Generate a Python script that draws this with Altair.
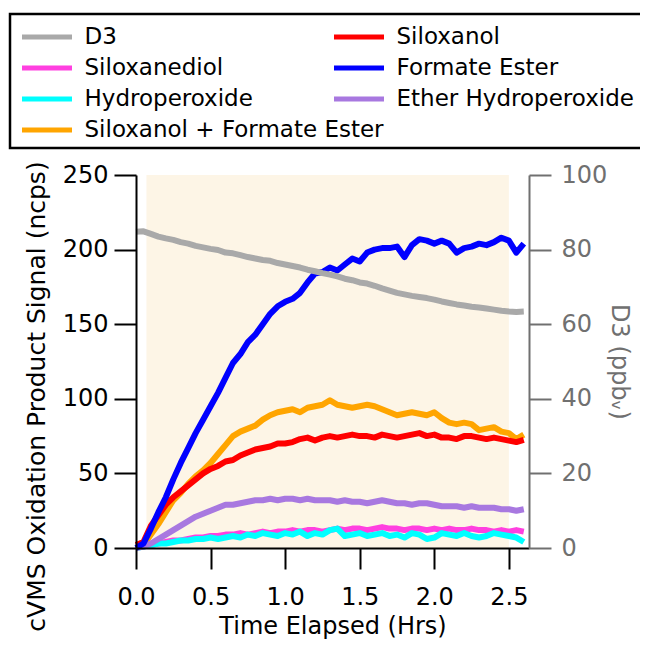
import altair as alt
import pandas as pd

# ---------------- data ----------------
time_hrs = [0.00, 0.05, 0.10, 0.15, 0.20, 0.25, 0.30, 0.35, 0.40, 0.45,
            0.50, 0.55, 0.60, 0.65, 0.70, 0.75, 0.80, 0.85, 0.90, 0.95,
            1.00, 1.05, 1.10, 1.15, 1.20, 1.25, 1.30, 1.35, 1.40, 1.45,
            1.50, 1.55, 1.60, 1.65, 1.70, 1.75, 1.80, 1.85, 1.90, 1.95,
            2.00, 2.05, 2.10, 2.15, 2.20, 2.25, 2.30, 2.35, 2.40, 2.45,
            2.50, 2.55, 2.60]

d3_ppb = [84.8, 84.9, 84.2, 83.5, 83.0, 82.6, 82.0, 81.6, 81.0, 80.6,
          80.2, 79.9, 79.2, 79.0, 78.5, 78.0, 77.6, 77.2, 77.0, 76.4,
          76.0, 75.6, 75.2, 74.6, 74.2, 73.7, 73.3, 72.8, 72.2, 71.8,
          71.2, 70.9, 70.3, 69.6, 69.0, 68.4, 68.0, 67.6, 67.3, 67.0,
          66.6, 66.1, 65.7, 65.3, 65.0, 64.7, 64.5, 64.2, 63.9, 63.6,
          63.4, 63.3, 63.4]

formate_ester = [0, 3, 13, 24, 34, 46, 57, 67, 77, 86,
                 95, 104, 114, 124, 130, 138, 143, 150, 157, 162,
                 165, 167, 171, 178, 184, 185, 188, 186, 190, 194,
                 192, 198, 200, 201, 201, 202, 195, 203, 207, 206,
                 204, 206, 204, 198, 201, 202, 204, 203, 205, 208,
                 206, 198, 204]

siloxanol_formate = [0, 2, 9, 16, 24, 32, 37, 43, 48, 52,
                     57, 63, 69, 75, 78, 80, 82, 86, 89, 91,
                     92, 93, 91, 94, 95, 96, 99, 96, 95, 94,
                     95, 96, 95, 93, 91, 89, 90, 91, 90, 89,
                     91, 87, 84, 83, 84, 83, 79, 80, 81, 78,
                     77, 73, 76]

siloxanol = [2, 4, 15, 22, 29, 34, 38, 42, 46, 50,
             53, 55, 58, 59, 62, 64, 66, 67, 68, 70,
             70, 71, 73, 74, 72, 74, 75, 74, 75, 76,
             75, 75, 74, 76, 75, 74, 75, 76, 77, 75,
             76, 74, 74, 73, 75, 75, 74, 73, 74, 73,
             72, 71, 72.5]

ether_hydroperoxide = [0, 1, 3, 6, 9, 12, 15, 18, 21, 23,
                       25, 27, 29, 29, 30, 31, 32, 32, 33, 32,
                       33, 33, 32, 33, 32, 32, 32, 31, 32, 31,
                       31, 30, 31, 32, 31, 30, 30, 29, 30, 30,
                       29, 28, 28, 28, 27, 28, 27, 27, 27, 26,
                       26, 25, 26]

siloxanediol = [1, 1, 2, 3, 4, 5, 5, 6, 7, 7,
                8, 8, 9, 9, 10, 9, 10, 11, 10, 11,
                11, 12, 11, 12, 12, 11, 12, 13, 12, 13,
                13, 12, 13, 14, 13, 13, 12, 13, 13, 12,
                13, 12, 13, 12, 12, 13, 12, 12, 11, 12,
                11, 12, 11]

hydroperoxide = [0, 1, 2, 3, 3, 4, 5, 5, 6, 6,
                 7, 6, 7, 8, 7, 9, 8, 10, 9, 8,
                 10, 9, 11, 8, 10, 9, 12, 13, 8, 9,
                 10, 8, 9, 10, 8, 9, 7, 10, 9, 6,
                 7, 10, 9, 8, 10, 8, 7, 8, 10, 9,
                 8, 7, 4]

# legend column 1 / column 2 names and colours
col1_names = ["D3", "Siloxanediol", "Hydroperoxide", "Siloxanol + Formate Ester"]
col1_colors = ["#A9A9A9", "#FF40E0", "#00FFFF", "#FFA500"]
col2_names = ["Siloxanol", "Formate Ester", "Ether Hydroperoxide"]
col2_colors = ["#FF0000", "#0000FF", "#A878E0"]

# shaded period
shade_start = [0.07]
shade_end = [2.50]
shade_lo = [0]
shade_hi = [250]

# axis ticks
x_ticks = [0.0, 0.5, 1.0, 1.5, 2.0, 2.5]
left_ticks = [0, 50, 100, 150, 200, 250]
right_ticks = [0, 20, 40, 60, 80, 100]

# ---------------- tables ----------------
def long_table(pairs):
    rows = []
    for name, vals in pairs:
        for t, v in zip(time_hrs, vals):
            rows.append({"t": t, "v": v, "series": name})
    return pd.DataFrame(rows)

df_a = long_table([("Siloxanediol", siloxanediol),
                   ("Hydroperoxide", hydroperoxide),
                   ("Siloxanol + Formate Ester", siloxanol_formate)])
df_b = long_table([("Siloxanol", siloxanol),
                   ("Ether Hydroperoxide", ether_hydroperoxide),
                   ("Formate Ester", formate_ester)])
df_d3 = long_table([("D3", d3_ppb)])
shade_df = pd.DataFrame({"start": shade_start, "end": shade_end,
                         "lo": shade_lo, "hi": shade_hi})

# ---------------- scales / axes ----------------
FONT = "DejaVu Sans"
GREY = "#707070"
LW = 6

x_scale = alt.Scale(domain=[0, 2.635], nice=False, zero=False)
left_scale = alt.Scale(domain=[0, 250], nice=False)
right_scale = alt.Scale(domain=[0, 100], nice=False)

x_axis = alt.Axis(title="Time Elapsed (Hrs)", values=x_ticks, format=".1f",
                  tickSize=21, labelPadding=16, titlePadding=5,
                  titleFontSize=24,
                  labelFlush=False, labelOverlap=False, zindex=1,
                  domainColor="black", tickColor="black",
                  labelColor="black", titleColor="black")
left_axis = alt.Axis(title="cVMS Oxidation Product Signal (ncps)",
                     orient="left", values=left_ticks, tickSize=22,
                     labelPadding=6, titlePadding=13, titleY=221, zindex=1,
                     domainColor="black", tickColor="black",
                     labelColor="black", titleColor="black")
right_axis = alt.Axis(title="D3 (ppb\u1d65)", orient="right",
                      values=right_ticks, tickSize=22, labelPadding=10,
                      titlePadding=0, titleFontSize=24, zindex=1,
                      domainColor=GREY, tickColor=GREY,
                      labelColor=GREY, titleColor=GREY)

legend_common = dict(orient="none", title=None, symbolType="M-2.5,0H2.5",
                     symbolSize=400, symbolStrokeWidth=5, labelFontSize=23,
                     labelFont=FONT, labelColor="black", labelOffset=25,
                     rowPadding=6, padding=0, labelLimit=600,
                     direction="vertical", legendY=-150.5)
legend1 = alt.Legend(legendX=-101.5, **legend_common)
legend2 = alt.Legend(legendX=210.5, **legend_common)

color_scale = alt.Scale(domain=col1_names, range=col1_colors)
stroke_scale = alt.Scale(domain=col2_names, range=col2_colors)

# ---------------- layers ----------------
shade = alt.Chart(shade_df).mark_rect(color="#FDF5E6").encode(
    x=alt.X("start:Q", scale=x_scale, axis=x_axis),
    x2="end:Q",
    y=alt.Y("lo:Q", scale=left_scale, axis=left_axis),
    y2="hi:Q",
)

# frame around the legend (runs off the right edge, as in the original)
legend_box = alt.Chart(pd.DataFrame({"k": [0]})).mark_rect(
    fillOpacity=0, stroke="black", strokeWidth=2.5
).encode(
    x=alt.value(-126), x2=alt.value(530),
    y=alt.value(-161), y2=alt.value(-27),
)

lines_a = alt.Chart(df_a).mark_line(strokeWidth=LW, strokeJoin="round").encode(
    x=alt.X("t:Q", scale=x_scale, axis=x_axis),
    y=alt.Y("v:Q", scale=left_scale, axis=left_axis),
    color=alt.Color("series:N", scale=color_scale, legend=legend1),
)

lines_b = alt.Chart(df_b).mark_line(strokeWidth=LW, strokeJoin="round").encode(
    x=alt.X("t:Q", scale=x_scale, axis=x_axis),
    y=alt.Y("v:Q", scale=left_scale, axis=left_axis),
    stroke=alt.Stroke("series:N", scale=stroke_scale, legend=legend2),
)

d3_line = alt.Chart(df_d3).mark_line(strokeWidth=LW, strokeJoin="round").encode(
    x=alt.X("t:Q", scale=x_scale, axis=x_axis),
    y=alt.Y("v:Q", scale=right_scale, axis=right_axis),
    color=alt.Color("series:N", scale=color_scale, legend=legend1),
)

left_group = alt.layer(shade, legend_box, lines_a, lines_b)

chart = alt.layer(left_group, d3_line).resolve_scale(
    y="independent"
).properties(
    width=393, height=373,
    padding={"left": 128, "top": 167, "right": 111, "bottom": 92},
    autosize=alt.AutoSizeParams(type="none"),
    background="white",
).configure(
    font=FONT,
).configure_view(
    stroke=None,
).configure_axis(
    labelFont=FONT, titleFont=FONT, labelFontSize=24, titleFontSize=25,
    titleFontWeight="normal", domainWidth=2, tickWidth=2, grid=False,
)

chart.save("out.html", embed_options={"renderer": "svg", "actions": False})
